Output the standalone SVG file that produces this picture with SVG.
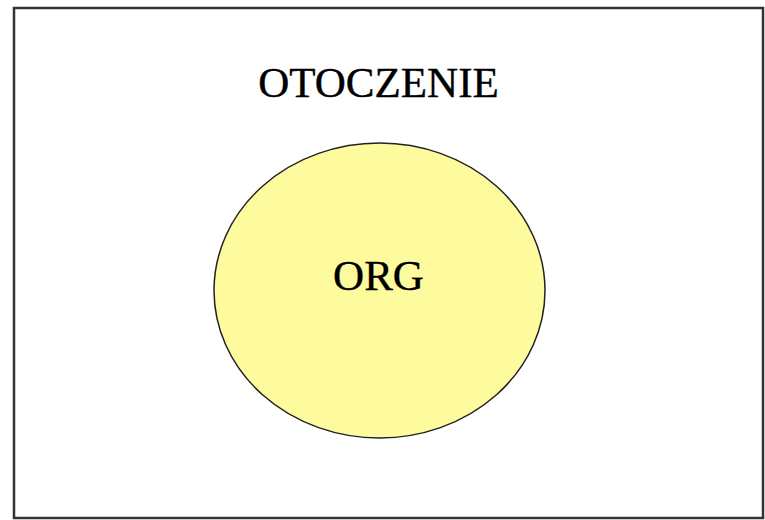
<svg xmlns="http://www.w3.org/2000/svg" width="765" height="520" viewBox="0 0 765 520">
<style>
text{font-family:"Liberation Serif","Times New Roman",serif;fill:#000;stroke:#000;stroke-width:0.4;text-anchor:middle}
</style>
<rect width="765" height="520" fill="#fff"/>
<g id="otoczenie">
<rect x="14" y="8" width="749" height="510" fill="none" stroke="#333" stroke-width="2.5"/>
<text x="378.5" y="97" font-size="43">OTOCZENIE</text>
</g>
<g id="org">
<ellipse cx="379.5" cy="290.5" rx="165.5" ry="147.5" fill="#fdfb9d" stroke="#222" stroke-width="1.5"/>
<text x="378.5" y="290" font-size="43">ORG</text>
</g>
<g id="connectors"/>
</svg>
